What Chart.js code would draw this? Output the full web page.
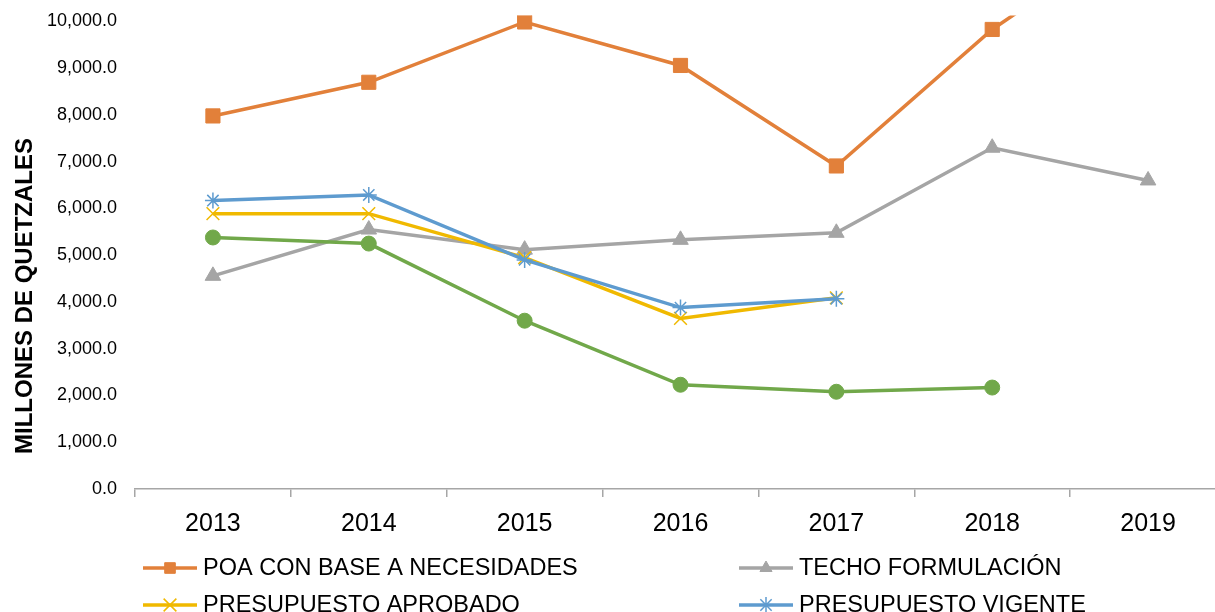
<!DOCTYPE html>
<html>
<head>
<meta charset="utf-8">
<script src="https://cdn.jsdelivr.net/npm/chart.js@4.4.1/dist/chart.umd.min.js"></script>
<style>
  html, body { margin: 0; padding: 0; background: #fff; overflow: hidden; }
  #wrap { width: 1240px; height: 612px; }
</style>
</head>
<body>
<div id="wrap"><canvas id="chart" width="1240" height="612"></canvas></div>
<script>
const years = ['2013', '2014', '2015', '2016', '2017', '2018', '2019']
const poaNecesidades = [7980, 8700, 9990, 9060, 6910, 9830, 12100]
const techoFormulacion = [4560, 5550, 5120, 5330, 5480, 7300, 6600]
const presupuestoAprobado = [5890, 5890, 4950, 3650, 4090, null, null]
const presupuestoVigente = [6170, 6290, 4900, 3880, 4070, null, null]
const presupuestoEjecutado = [5380, 5250, 3600, 2230, 2080, 2170, null]
const yTicks = [0, 1000, 2000, 3000, 4000, 5000, 6000, 7000, 8000, 9000, 10000]

const FONT = '"Liberation Sans", Arial, sans-serif'

const series = [
  { label: 'POA CON BASE A NECESIDADES', data: poaNecesidades, color: '#E2803A', style: 'rect', r: 10, lr: 7.5 },
  { label: 'TECHO FORMULACIÓN', data: techoFormulacion, color: '#A5A5A5', style: 'triangle', r: 9, lr: 7 },
  { label: 'PRESUPUESTO APROBADO', data: presupuestoAprobado, color: '#F0B900', style: 'crossRot', r: 9, lr: 9 },
  { label: 'PRESUPUESTO VIGENTE', data: presupuestoVigente, color: '#5E9BCF', style: 'star', r: 8, lr: 8 },
  { label: 'PRESUPUESTO EJECUTADO', data: presupuestoEjecutado, color: '#71A84A', style: 'circle', r: 7.5, lr: 6 },
]

const isLineMarker = s => s === 'crossRot' || s === 'star' || s === 'cross'

// y title + legend drawn by hand so they sit where the reference has them
const extras = {
  id: 'extras',
  afterDraw(chart) {
    const ctx = chart.ctx
    ctx.save()
    ctx.translate(25, 296)
    ctx.rotate(-Math.PI / 2)
    ctx.font = 'bold 24px ' + FONT
    ctx.fillStyle = '#000'
    ctx.textAlign = 'center'
    ctx.textBaseline = 'middle'
    ctx.fillText('MILLONES DE QUETZALES', 0, 0)
    ctx.restore()

    chart.data.datasets.forEach((ds, i) => {
      const col = i % 2, row = Math.floor(i / 2)
      const x0 = col ? 739 : 143
      const cy = 568 + row * 37
      ctx.save()
      ctx.strokeStyle = ds.borderColor
      ctx.lineWidth = 3.5
      ctx.beginPath()
      ctx.moveTo(x0, cy)
      ctx.lineTo(x0 + 54, cy)
      ctx.stroke()
      ctx.fillStyle = ds.pointBackgroundColor
      ctx.strokeStyle = ds.pointBorderColor
      ctx.lineWidth = ds.pointBorderWidth
      Chart.helpers.drawPoint(ctx, {
        pointStyle: ds.pointStyle, rotation: 0, radius: series[i].lr, borderWidth: ds.pointBorderWidth
      }, x0 + 27, cy)
      ctx.fillStyle = '#000'
      ctx.font = '23.5px ' + FONT
      ctx.textAlign = 'left'
      ctx.textBaseline = 'middle'
      ctx.fillText(ds.label, x0 + 60, cy + 1)
      ctx.restore()
    })
  }
}

new Chart(document.getElementById('chart'), {
  type: 'line',
  data: {
    labels: years,
    datasets: series.map((s, i) => ({
      label: s.label,
      data: s.data,
      borderColor: s.color,
      backgroundColor: s.color,
      borderWidth: 3.5,
      pointStyle: s.style,
      pointRadius: s.r,
      pointHoverRadius: s.r,
      pointBackgroundColor: s.color,
      pointBorderColor: s.color,
      pointBorderWidth: isLineMarker(s.style) ? 1.5 : 1,
      tension: 0,
      spanGaps: false,
      order: series.length - i,
      clip: { left: 10, right: 10, top: 6, bottom: 10 },
    }))
  },
  plugins: [extras],
  options: {
    responsive: false,
    animation: false,
    devicePixelRatio: 1,
    layout: { padding: { top: 21.5, right: 14, bottom: 0, left: 0 } },
    plugins: {
      legend: { display: false },
      tooltip: { enabled: false },
    },
    scales: {
      x: {
        offset: true,
        grid: { offset: true, drawOnChartArea: false, drawTicks: true, tickLength: 8, color: '#A6A6A6', lineWidth: 1.5 },
        border: { display: true, color: '#A6A6A6', width: 1.5 },
        ticks: { color: '#000', font: { family: FONT, size: 25 }, padding: 12, maxRotation: 0 },
        afterFit: scale => { scale.height = 123; scale.paddingLeft = 0; scale.paddingRight = 0 },
      },
      y: {
        min: 0,
        max: 10000,
        afterBuildTicks: scale => { scale.ticks = yTicks.map(v => ({ value: v })) },
        grid: { display: false, drawTicks: false },
        border: { display: false },
        ticks: {
          color: '#000',
          font: { family: FONT, size: 18 },
          padding: 18,
          callback: v => v.toLocaleString('en-US', { minimumFractionDigits: 1, maximumFractionDigits: 1 }),
        },
        afterFit: scale => { scale.width = 135; scale.paddingTop = 0; scale.paddingBottom = 0 },
      },
    },
  },
})
</script>
</body>
</html>
